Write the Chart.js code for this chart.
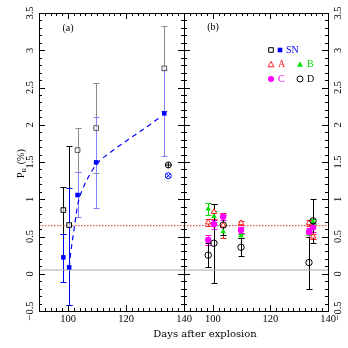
<!DOCTYPE html>
<html><head><meta charset="utf-8">
<script src="https://cdn.jsdelivr.net/npm/chart.js@4/dist/chart.umd.min.js"></script>
<style>
html,body{margin:0;padding:0;background:#fff;}
#wrap{position:relative;width:348px;height:348px;overflow:hidden;}
#wrap canvas{position:absolute;left:0;top:0;}
</style></head><body>
<div id="wrap"><canvas id="ca" width="348" height="348"></canvas><canvas id="cb" width="348" height="348"></canvas></div>
<script>
// ---- axes ----
const xRange = [90, 140];
const yRange = [-0.5, 3.5];
const xTickLabels = [100, 120, 140];
const yTickLabels = ['-0.5', '0', '0.5', '1', '1.5', '2', '2.5', '3', '3.5'];
const yTickValues = [-0.5, 0, 0.5, 1, 1.5, 2, 2.5, 3, 3.5];
const refLevels = [0.05, 0.645]; // gray solid, red dotted

// ---- panel (a) ----
const daysA = [98.4, 100.4, 103.3, 109.7, 133.2];
const totP  = [0.855, 0.654, 1.66, 1.956, 2.757];
const totLo = [0.54, -0.416, 1.36, 1.35, 2.18];
const totHi = [1.17, 1.72, 1.95, 2.565, 3.33];
const snP   = [0.22, 0.086, 1.057, 1.495, 2.153];
const snLo  = [-0.107, -0.42, 0.76, 0.887, 1.585];
const snHi  = [0.53, 1.155, 1.36, 2.11, 2.73];
const extraDay = [134.6];
const extraTot = [1.46];
const extraSN  = [1.316];
const fitDays = [100.4, 101.0, 101.8, 102.8, 103.6, 105.3, 107.5, 109.8, 115, 120, 126, 131.7];
const fitP    = [0.09, 0.30, 0.52, 0.79, 0.97, 1.16, 1.33, 1.47, 1.64, 1.78, 1.94, 2.10];

// ---- panel (b) ----
const daysB = [98.4, 100.4, 103.6, 109.8, 133.4, 134.8];
const aP   = [0.69, 0.83, 0.65, 0.68, 0.68, 0.50];
const aErr = [0.05, 0.10, 0.17, 0.03, 0.04, 0.04];
const bP   = [0.87, 0.77, 0.565, 0.51, 0.53, 0.70];
const bErr = [0.085, 0.07, 0.09, 0.03, 0.04, 0.03];
const cP   = [0.453, 0.664, 0.766, 0.587, 0.56, 0.62];
const cErr = [0.07, 0.06, 0.05, 0.04, 0.06, 0.06];
const dP   = [0.25, 0.41, 0.654, 0.355, 0.15, 0.71];
const dErr = [0.16, 0.53, 0.13, 0.12, 0.35, 0.30];

const COL = {black:'#000000', gray:'#8a8a8a', blue:'#0000ff', lblue:'#8080ff',
  red:'#ff2020', green:'#00dd00', mag:'#ff00ff', ref:'#a8a8a8', refRed:'#d03030'};
const SERIF = '"Liberation Serif", "DejaVu Serif", serif';

const pts = (xs, ys) => xs.map((x, i) => ({x, y: ys[i]}));
const refSets = () => [
  {type:'line', data: pts(xRange, [refLevels[0], refLevels[0]]), borderColor: COL.ref, borderWidth: 1, pointRadius: 0},
  {type:'line', data: pts(xRange, [refLevels[1], refLevels[1]]), borderColor: COL.refRed, borderWidth: 1, borderDash:[1.5,1.5], pointRadius: 0}
];

// error bars plugin
const errPlugin = {
  id: 'errbars',
  beforeDatasetsDraw(chart) {
    const {ctx, scales:{x, y}} = chart;
    const ds = chart.data.datasets;
    ctx.save();
    for (let k = ds.length - 1; k >= 0; k--) {
      const d = ds[k];
      if (!d.errLo) continue;
      d.data.forEach((p, i) => {
        const px = Math.round(x.getPixelForValue(p.x)) + 0.5;
        const y1 = Math.round(y.getPixelForValue(d.errLo[i])) + 0.5;
        const y2 = Math.round(y.getPixelForValue(d.errHi[i])) + 0.5;
        ctx.strokeStyle = typeof d.errColor === 'function' ? d.errColor(i) : d.errColor;
        ctx.lineWidth = 1;
        ctx.beginPath();
        ctx.moveTo(px, y1); ctx.lineTo(px, y2);
        const c = d.capHalf || 3;
        ctx.moveTo(px - c, y1); ctx.lineTo(px + c, y1);
        ctx.moveTo(px - c, y2); ctx.lineTo(px + c, y2);
        ctx.stroke();
      });
    }
    ctx.restore();
  }
};

// frame, inward ticks and tick labels
function framePlugin(side) {
  return {
    id: 'frame' + side,
    afterDraw(chart) {
      const {ctx, chartArea:a, scales:{x, y}} = chart;
      ctx.save();
      ctx.strokeStyle = '#000'; ctx.lineWidth = 1;
      ctx.strokeRect(a.left + 0.5, a.top + 0.5, a.right - a.left, a.bottom - a.top);
      ctx.beginPath();
      for (let i = 1; i < 25; i++) {
        const v = xRange[0] + 2 * i;
        const px = Math.round(x.getPixelForValue(v)) + 0.5;
        const len = (v % 20 === 0) ? 6 : 3;
        ctx.moveTo(px, a.bottom); ctx.lineTo(px, a.bottom - len);
        ctx.moveTo(px, a.top); ctx.lineTo(px, a.top + len);
      }
      for (let i = 1; i < 40; i++) {
        const v = yRange[0] + 0.1 * i;
        const py = Math.round(y.getPixelForValue(v)) + 0.5;
        const len = (i % 5 === 0) ? 6 : 3;
        ctx.moveTo(a.left, py); ctx.lineTo(a.left + len, py);
        ctx.moveTo(a.right, py); ctx.lineTo(a.right - len, py);
      }
      ctx.stroke();
      ctx.fillStyle = '#000';
      ctx.font = '10.5px ' + SERIF;
      ctx.textAlign = 'center'; ctx.textBaseline = 'middle';
      xTickLabels.forEach(v => ctx.fillText(String(v), x.getPixelForValue(v), a.bottom + 8));
      const lx = side === 'left' ? a.left - 9 : a.right + 10;
      yTickValues.forEach((v, i) => {
        ctx.save();
        ctx.translate(lx, y.getPixelForValue(v));
        ctx.rotate(-Math.PI / 2);
        ctx.fillText(yTickLabels[i].replace('-', '\u2212'), 0, 0);
        ctx.restore();
      });
      ctx.restore();
    }
  };
}

const textPluginA = {
  id: 'textA',
  afterDraw(chart) {
    const {ctx, chartArea:a} = chart;
    ctx.save();
    ctx.fillStyle = '#000';
    ctx.font = '10px ' + SERIF;
    ctx.textAlign = 'center'; ctx.textBaseline = 'middle';
    ctx.fillText('(a)', a.left + 29, a.top + 15);
    // y title
    ctx.translate(21, 178);
    ctx.rotate(-Math.PI / 2);
    ctx.textAlign = 'left';
    ctx.font = '10px ' + SERIF;
    ctx.fillText('P', 0, 0);
    const w = ctx.measureText('P').width;
    ctx.font = '7px ' + SERIF;
    ctx.fillText('R', w, 3);
    const w2 = ctx.measureText('R').width;
    ctx.font = '10px ' + SERIF;
    ctx.fillText(' (%)', w + w2 + 1, 0);
    ctx.restore();
    ctx.save();
    ctx.fillStyle = '#000';
    ctx.font = '10px "DejaVu Serif", serif';
    ctx.textAlign = 'center'; ctx.textBaseline = 'middle';
    ctx.fillText('Days after explosion', 205, 334);
    ctx.restore();
  }
};

function marker(ctx, style, cx, cy, r, fill, stroke) {
  ctx.beginPath();
  if (style === 'rect') ctx.rect(cx - r, cy - r, 2 * r, 2 * r);
  else if (style === 'circle') ctx.arc(cx, cy, r, 0, Math.PI * 2);
  else if (style === 'triangle') { ctx.moveTo(cx, cy - r); ctx.lineTo(cx + r, cy + r * 0.75); ctx.lineTo(cx - r, cy + r * 0.75); ctx.closePath(); }
  if (fill) { ctx.fillStyle = fill; ctx.fill(); }
  if (stroke) { ctx.strokeStyle = stroke; ctx.lineWidth = 1; ctx.stroke(); }
}

const textPluginB = {
  id: 'textB',
  afterDraw(chart) {
    const {ctx, chartArea:a} = chart;
    ctx.save();
    ctx.font = '10px ' + SERIF;
    ctx.textBaseline = 'middle'; ctx.textAlign = 'center';
    ctx.fillStyle = '#000';
    ctx.fillText('(b)', a.left + 29, a.top + 14);
    ctx.textAlign = 'left';
    const c1 = a.left + 87, c2 = a.left + 116, r1 = a.top + 37, dy = 14.5;
    marker(ctx, 'rect', c1, r1, 2.3, '#fff', '#000');
    marker(ctx, 'rect', c1 + 9, r1, 2.3, COL.blue, null);
    ctx.fillStyle = COL.blue; ctx.fillText('SN', c1 + 15, r1);
    marker(ctx, 'triangle', c1, r1 + dy, 3, '#fff', COL.red);
    ctx.fillStyle = COL.red; ctx.fillText('A', c1 + 7, r1 + dy);
    marker(ctx, 'triangle', c2, r1 + dy, 3, COL.green, null);
    ctx.fillStyle = COL.green; ctx.fillText('B', c2 + 7, r1 + dy);
    marker(ctx, 'circle', c1, r1 + 2 * dy, 3, COL.mag, null);
    ctx.fillStyle = COL.mag; ctx.fillText('C', c1 + 7, r1 + 2 * dy);
    marker(ctx, 'circle', c2, r1 + 2 * dy, 3, null, '#000');
    ctx.fillStyle = '#000'; ctx.fillText('D', c2 + 7, r1 + 2 * dy);
    ctx.restore();
  }
};

const baseScales = {
  x: {type:'linear', min: xRange[0], max: xRange[1], display: false},
  y: {type:'linear', min: yRange[0], max: yRange[1], display: false}
};
const baseOpts = (pad) => ({
  responsive: false, animation: false, devicePixelRatio: 1,
  layout: {padding: pad},
  plugins: {legend: {display: false}, tooltip: {enabled: false}},
  scales: baseScales,
  clip: false
});

const early = i => i < 2;

new Chart(document.getElementById('ca'), {
  type: 'scatter',
  data: {datasets: [
    {data: pts(daysA, snP), errLo: snLo, errHi: snHi, errColor: i => early(i) ? COL.blue : COL.lblue,
     pointStyle: 'rect', pointRadius: 3.2, backgroundColor: COL.blue, borderColor: COL.blue, borderWidth: 0},
    {data: pts(daysA, totP), errLo: totLo, errHi: totHi, errColor: i => early(i) ? COL.black : COL.gray,
     pointStyle: 'rect', pointRadius: 3.3, backgroundColor: 'rgba(255,255,255,0.6)',
     borderColor: ctx => early(ctx.dataIndex) ? '#000' : '#555', borderWidth: 1},
    {data: pts(extraDay, extraTot), pointStyle: 'cross', pointRadius: 3, borderColor: '#000', borderWidth: 1},
    {data: pts(extraDay, extraTot), pointStyle: 'circle', pointRadius: 3, backgroundColor: 'rgba(0,0,0,0)', borderColor: '#000', borderWidth: 1},
    {data: pts(extraDay, extraSN), pointStyle: 'crossRot', pointRadius: 3, borderColor: COL.blue, borderWidth: 1},
    {data: pts(extraDay, extraSN), pointStyle: 'circle', pointRadius: 3, backgroundColor: 'rgba(0,0,0,0)', borderColor: COL.blue, borderWidth: 1},
    {type: 'line', data: pts(fitDays, fitP), borderColor: COL.blue, borderWidth: 1.2, borderDash: [5, 4],
     pointRadius: 0, cubicInterpolationMode: 'monotone', fill: false},
    ...refSets()
  ]},
  options: baseOpts({left: 39, right: 164, top: 13, bottom: 37}),
  plugins: [errPlugin, framePlugin('left'), textPluginA]
});

const sym = (v, e, s) => v.map((p, i) => p + s * e[i]);
new Chart(document.getElementById('cb'), {
  type: 'scatter',
  data: {datasets: [
    {data: pts(daysB, dP), errLo: sym(dP, dErr, -1), errHi: sym(dP, dErr, 1), errColor: '#000',
     pointStyle: 'circle', pointRadius: 3.2, backgroundColor: 'rgba(0,0,0,0)', borderColor: '#000', borderWidth: 1},
    {data: pts(daysB, aP), errLo: sym(aP, aErr, -1), errHi: sym(aP, aErr, 1), errColor: COL.red,
     pointStyle: 'triangle', pointRadius: 3.2, backgroundColor: '#fff', borderColor: COL.red, borderWidth: 1},
    {data: pts(daysB, cP), errLo: sym(cP, cErr, -1), errHi: sym(cP, cErr, 1), errColor: COL.mag,
     pointStyle: 'circle', pointRadius: 3.2, backgroundColor: COL.mag, borderColor: COL.mag, borderWidth: 0},
    {data: pts(daysB, bP), errLo: sym(bP, bErr, -1), errHi: sym(bP, bErr, 1), errColor: COL.green,
     pointStyle: 'triangle', pointRadius: 3.2, backgroundColor: COL.green, borderColor: COL.green, borderWidth: 0},
    ...refSets()
  ]},
  options: baseOpts({left: 184, right: 20, top: 13, bottom: 37}),
  plugins: [errPlugin, framePlugin('right'), textPluginB]
});
</script>
</body></html>
